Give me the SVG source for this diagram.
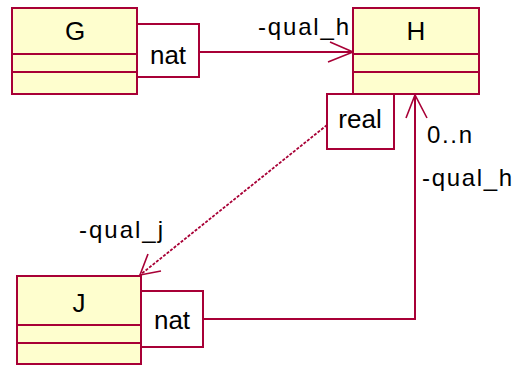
<svg xmlns="http://www.w3.org/2000/svg" width="516" height="367" viewBox="0 0 516 367">
<style>
.cls{fill:#FEFECE;stroke:#A80036;stroke-width:2}
.q{fill:#FFFFFF;stroke:#A80036;stroke-width:2}
.div{stroke:#A80036;stroke-width:2}
.ln{fill:none;stroke:#A80036;stroke-width:2}
.dot{fill:none;stroke:#A80036;stroke-width:1.8;stroke-dasharray:3 1.5}
.ah{fill:none;stroke:#A80036;stroke-width:1.6}
.big{font-family:"Liberation Sans",Arial,sans-serif;font-size:26px;fill:#000;text-anchor:middle}
.lab{font-family:"Liberation Sans",Arial,sans-serif;font-size:24px;fill:#000}
</style>
<rect width="516" height="367" fill="#FFFFFF"/>
<g id="connectors">
<line class="ln" x1="199" y1="52" x2="353" y2="52"/>
<polyline class="ah" points="330,42 353,52 328,62"/>
<line class="dot" x1="327" y1="125" x2="140" y2="275"/>
<polyline class="ah" points="148,254 140,275 161,271"/>
<polyline class="ln" points="203,319 415,319 415,95"/>
<polyline class="ah" points="406,118 415,95 427,118"/>
<text class="lab" x="258" y="35" textLength="91" lengthAdjust="spacing">-qual_h</text>
<text class="lab" x="427" y="143" textLength="45" lengthAdjust="spacing">0..n</text>
<text class="lab" x="422" y="186" textLength="90" lengthAdjust="spacing">-qual_h</text>
<text class="lab" x="79" y="238" textLength="84" lengthAdjust="spacing">-qual_j</text>
</g>
<g id="G">
<rect class="cls" x="12" y="8" width="125" height="86"/>
<line class="div" x1="12" y1="54" x2="137" y2="54"/>
<line class="div" x1="12" y1="72" x2="137" y2="72"/>
<text class="big" x="75" y="40">G</text>
<rect class="q" x="137" y="24" width="62" height="53"/>
<text class="big" x="168" y="64">nat</text>
</g>
<g id="H">
<rect class="cls" x="353" y="8" width="126" height="86"/>
<line class="div" x1="353" y1="54" x2="479" y2="54"/>
<line class="div" x1="353" y1="72" x2="479" y2="72"/>
<text class="big" x="416" y="40">H</text>
<rect class="q" x="327" y="94" width="67" height="55"/>
<text class="big" x="360" y="128">real</text>
</g>
<g id="J">
<rect class="cls" x="17" y="276" width="124" height="88"/>
<line class="div" x1="17" y1="325" x2="141" y2="325"/>
<line class="div" x1="17" y1="343" x2="141" y2="343"/>
<text class="big" x="79" y="312">J</text>
<rect class="q" x="141" y="291" width="62" height="56"/>
<text class="big" x="172" y="329">nat</text>
</g>
</svg>
